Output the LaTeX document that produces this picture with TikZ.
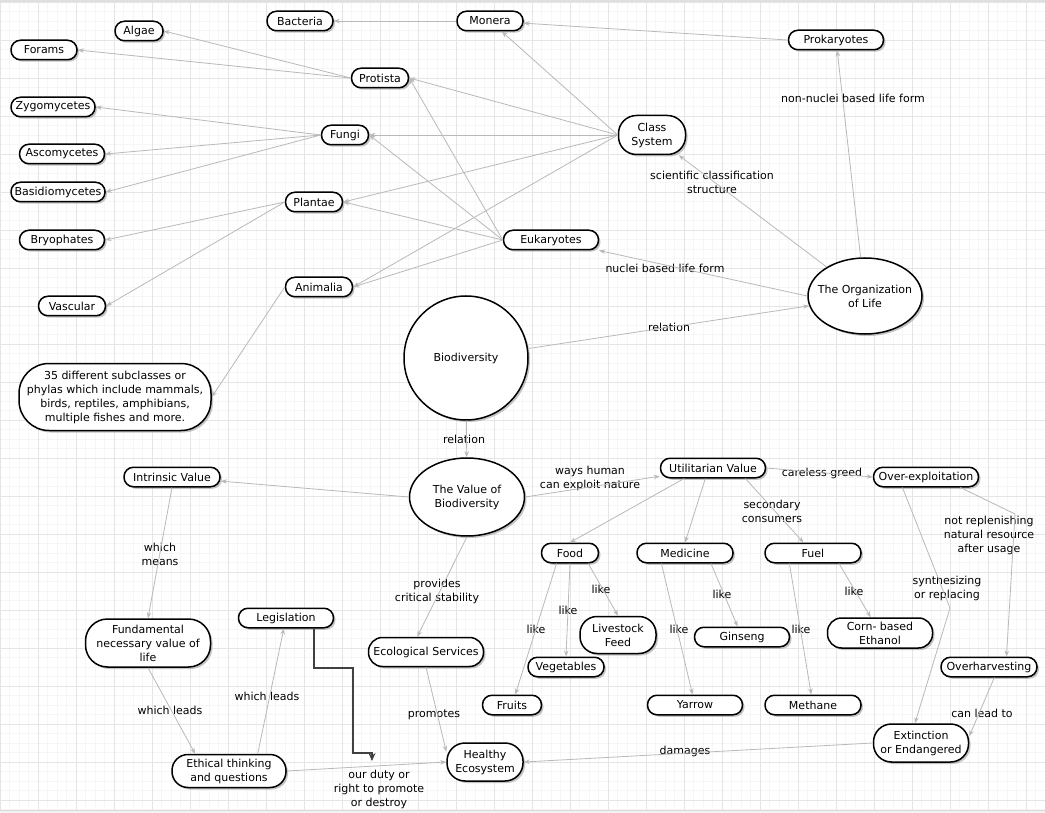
\documentclass[tikz,border=0pt]{standalone}
\usepackage{fontspec}
\setmainfont{DejaVu Sans}
\usetikzlibrary{arrows.meta,shapes.geometric,shadows}

\begin{document}
\begin{tikzpicture}[x=1pt,y=-1pt,>={Stealth[length=6pt,width=4.5pt]},
  concept/.style={draw,line width=1.5pt,fill=white,align=center,inner sep=2pt,
    font=\fontsize{11}{14}\selectfont,rounded corners=9.5pt,minimum height=19.5pt,
    drop shadow={shadow xshift=2pt,shadow yshift=-2pt,fill=black!45,opacity=0.5}},
  blob/.style={concept,ellipse},
  lbl/.style={align=center,inner sep=0pt,font=\fontsize{11}{14}\selectfont},
  link/.style={draw=gray!55,line width=0.8pt,->}]
  \useasboundingbox (0,0) rectangle (1045,813);
  % paper grid
  \fill[white] (0,0) rectangle (1045,813);
  \foreach \i in {0,...,110} \draw[gray!7,line width=0.8pt] (0.3+9.5*\i,0) -- ++(0,813);
  \foreach \j in {0,...,85} \draw[gray!7,line width=0.8pt] (0,2.3+9.5*\j) -- ++(1045,0);
  \foreach \i in {0,...,27} \draw[gray!20,line width=0.8pt] (0.3+38*\i,0) -- ++(0,813);
  \foreach \j in {0,...,21} \draw[gray!20,line width=0.8pt] (0,2.3+38*\j) -- ++(1045,0);
  \draw[gray!25,line width=2pt] (0,1) -- (1045,1);
  \fill[gray!10] (0,810) rectangle (1045,813);
  \draw[gray!30] (0,810) -- (1045,810);

  % concepts
  \node[concept,minimum width=66pt] (bact) at (300,21) {Bacteria};
  \node[concept,minimum width=48pt] (algae) at (139,31) {Algae};
  \node[concept,minimum width=66pt] (forams) at (44,50) {Forams};
  \node[concept,minimum width=84pt] (zygo) at (53,107) {Zygomycetes};
  \node[concept,minimum width=85pt] (asco) at (62,154) {Ascomycetes};
  \node[concept,minimum width=94pt] (basid) at (58,192) {Basidiomycetes};
  \node[concept,minimum width=85pt] (bryo) at (62,240) {Bryophates};
  \node[concept,minimum width=67pt] (vasc) at (72,306) {Vascular};
  \node[concept,minimum width=57pt] (plant) at (314,202) {Plantae};
  \node[concept,minimum width=67pt] (anim) at (319,287) {Animalia};
  \node[concept,minimum width=47pt] (fungi) at (345,135) {Fungi};
  \node[concept,minimum width=66pt] (monera) at (490,21) {Monera};
  \node[concept,minimum width=57pt] (prot) at (380,78) {Protista};
  \node[concept,minimum width=67pt,minimum height=39pt,rounded corners=18pt] (class) at (652,135) {Class\\System};
  \node[concept,minimum width=95pt] (euk) at (551,240) {Eukaryotes};
  \node[concept,minimum width=95pt] (prok) at (836,40) {Prokaryotes};
  \node[blob,inner xsep=-9pt,minimum width=114pt,minimum height=76pt] (org) at (865,296) {The Organization\\of Life};
  \node[concept,circle,minimum size=124pt] (bio) at (466,358) {Biodiversity};
  \node[concept,minimum width=192pt,minimum height=67pt,rounded corners=30pt] (phyla) at (115,397)
    {35 different subclasses or\\phylas which include mammals,\\birds, reptiles, amphibians,\\multiple fishes and more.};
  \node[concept,minimum width=96pt] (intr) at (172,477) {Intrinsic Value};
  \node[blob,minimum width=115pt,minimum height=78pt] (value) at (467,497) {The Value of\\Biodiversity};
  \node[concept,minimum width=105pt] (util) at (713,468) {Utilitarian Value};
  \node[concept,minimum width=105pt] (over) at (926,477) {Over-exploitation};
  \node[concept,minimum width=57pt] (food) at (570,553) {Food};
  \node[concept,minimum width=96pt] (med) at (685,553) {Medicine};
  \node[concept,minimum width=96pt] (fuel) at (813,553) {Fuel};
  \node[concept,minimum width=76pt,minimum height=37pt,rounded corners=17pt] (feed) at (618,635) {Livestock\\Feed};
  \node[concept,minimum width=76pt] (veg) at (566,667) {Vegetables};
  \node[concept,minimum width=59pt] (fruit) at (512,705) {Fruits};
  \node[concept,minimum width=95pt] (gins) at (742,637) {Ginseng};
  \node[concept,minimum width=105pt,minimum height=30pt,rounded corners=14pt] (corn) at (880,633) {Corn- based\\Ethanol};
  \node[concept,minimum width=96pt] (harv) at (989,667) {Overharvesting};
  \node[concept,minimum width=95pt] (yarrow) at (695,705) {Yarrow};
  \node[concept,minimum width=96pt] (meth) at (813,705) {Methane};
  \node[concept,minimum width=95pt,minimum height=38pt,rounded corners=18pt] (ext) at (921,743) {Extinction\\or Endangered};
  \node[concept,minimum width=76pt,minimum height=38pt,rounded corners=18pt] (eco) at (485,762) {Healthy\\Ecosystem};
  \node[concept,minimum width=115pt,minimum height=29pt,rounded corners=14pt] (serv) at (426,652) {Ecological Services};
  \node[concept,minimum width=95pt] (legis) at (286,618) {Legislation};
  \node[concept,minimum width=125pt,minimum height=48pt,rounded corners=22pt] (fund) at (148,643) {Fundamental\\necessary value of\\life};
  \node[concept,minimum width=114pt,minimum height=33pt,rounded corners=16pt] (ethic) at (229,771) {Ethical thinking\\and questions};

  % link labels
  \node[lbl] (lnonnuc) at (853,98) {non-nuclei based life form};
  \node[lbl] (lsci) at (712,182) {scientific classification\\structure};
  \node[lbl] (lnuc) at (665,268) {nuclei based life form};
  \node[lbl] (lrel1) at (669,327) {relation};
  \node[lbl] (lrel2) at (464,439) {relation};
  \node[lbl] (lways) at (590,478) {ways human\\can exploit nature};
  \node[lbl] (lgreed) at (822,473) {careless greed};
  \node[lbl] (lsec) at (772,511) {secondary\\consumers};
  \node[lbl] (lmeans) at (160,554) {which\\means};
  \node[lbl] (lleads1) at (170,710) {which leads};
  \node[lbl] (lleads2) at (267,696) {which leads};
  \node[lbl] (lduty) at (379,789) {our duty or\\right to promote\\or destroy};
  \node[lbl] (lprov) at (437,591) {provides\\critical stability};
  \node[lbl] (lprom) at (434,715) {promotes};
  \node[lbl] (llike1) at (601,589) {like};
  \node[lbl] (llike2) at (568,610) {like};
  \node[lbl] (llike3) at (536,629) {like};
  \node[lbl] (llike4) at (679,629) {like};
  \node[lbl] (llike5) at (722,594) {like};
  \node[lbl] (llike6) at (801,629) {like};
  \node[lbl] (llike7) at (854,591) {like};
  \node[lbl] (lsynth) at (947,588) {synthesizing\\or replacing};
  \node[lbl] (lrepl) at (989,535) {not replenishing\\natural resource\\after usage};
  \node[lbl] (llead) at (982,713) {can lead to};
  \node[lbl] (ldam) at (685,751) {damages};

  \coordinate (bend1) at (950,608);
  \coordinate (bend2) at (1015,514);
  \coordinate (duty) at (372,761);

  % links
  \draw[link] (monera.west) -- (bact);
  \draw[link] (prok.west) -- (monera);
  \draw[link] (prot.west) -- (algae.east);
  \draw[link] (prot.west) -- (forams.east);
  \foreach \t in {zygo,asco,basid} \draw[link] (fungi.west) -- (\t.east);
  \foreach \t in {bryo,vasc} \draw[link] (plant.west) -- (\t.east);
  \draw[link] (class.west) -- (monera);
  \foreach \t in {prot,fungi,plant,anim} \draw[link] (class.west) -- (\t.east);
  \foreach \t in {prot,fungi,plant,anim} \draw[link] (euk.west) -- (\t.east);
  \draw[link] (anim.west) -- (phyla.east);
  \draw[link] (org) -- (class);
  \draw[link] (org) -- (prok);
  \draw[link] (org.west) -- (euk);
  \draw[link] (bio) -- (org.190);
  \draw[link] (bio) -- (value);
  \draw[link] (value.west) -- (intr);
  \draw[link] (value.east) -- (util);
  \draw[link] (value.south) -- (serv.120);
  \draw[link] (intr.south) -- (fund.north);
  \draw[link] (fund.south) -- (ethic.153);
  \draw[link] (ethic.31) -- (legis);
  \draw[link] (ethic.east) -- (eco.west);
  \draw[link] (serv.south) -- (eco.165);
  \draw[link] (ext.west) -- (eco.east);
  \draw[link] (util.east) -- (over.west);
  \draw[link] (util.-160) -- (food.north);
  \draw[link] (util.-126) -- (med.north);
  \draw[link] (util.-18) -- (fuel);
  \draw[link] (food.-30) -- (feed.north);
  \draw[link] (food.south) -- (veg.north);
  \draw[link] (food.-142) -- (fruit);
  \draw[link] (med.-22) -- (gins);
  \draw[link] (med.-156) -- (yarrow);
  \draw[link] (fuel.-22) -- (corn);
  \draw[link] (fuel.-156) -- (meth);
  \draw[link] (over.-156) -- (bend1) -- (ext.107);
  \draw[link] (over.-17) -- (bend2) -- (harv.31);
  \draw[link] (harv.-63) -- (ext.8);
  \draw[black!75,line width=1.2pt,-{Stealth[length=8pt,width=7pt]}]
    ([xshift=28pt]legis.south) |- (353,668) |- (372,753) -- (duty);
\end{tikzpicture}
\end{document}
